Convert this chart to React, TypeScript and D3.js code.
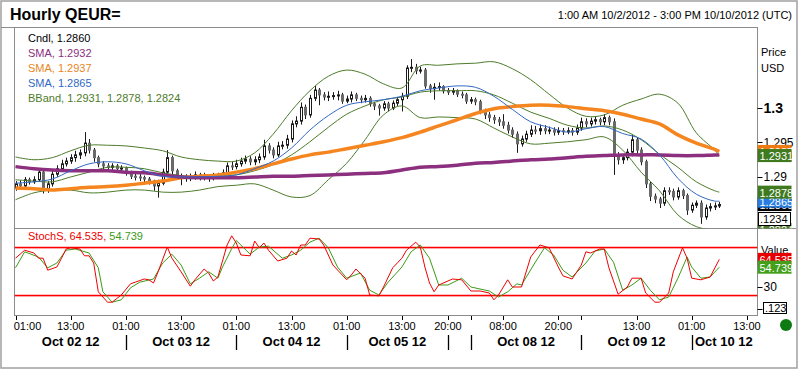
import React, { useEffect, useRef } from 'react';
import * as d3 from 'd3';

const W = 799;
const H = 370;
const FONT = 'Arial, "Liberation Sans", sans-serif';

// hourly candles from 01:00 Oct 02 2012 (UTC), weekend gap after index 93
const firstOpen = 1.2884;
const closes = [
  1.2890, 1.2887, 1.2896, 1.2893, 1.2896, 1.2907, 1.2883, 1.2890, 1.2904, 1.2912,
  1.2919, 1.2923, 1.2928, 1.2932, 1.2935, 1.2949, 1.2939, 1.2928, 1.2919, 1.2916,
  1.2914, 1.2916, 1.2912, 1.2913, 1.2906, 1.2901, 1.2900, 1.2899, 1.2897, 1.2894,
  1.2887, 1.2891, 1.2907, 1.2928, 1.2909, 1.2901, 1.2899, 1.2898, 1.2900, 1.2903,
  1.2900, 1.2901, 1.2899, 1.2901, 1.2902, 1.2906, 1.2916, 1.2915, 1.2919, 1.2923,
  1.2926, 1.2922, 1.2925, 1.2929, 1.2945, 1.2939, 1.2932, 1.2945, 1.2946, 1.2955,
  1.2977, 1.2981, 1.3001, 1.2990, 1.3014, 1.3026, 1.3019, 1.3016, 1.3017, 1.3018,
  1.3019, 1.3010, 1.3013, 1.3019, 1.3014, 1.3012, 1.3014, 1.3006, 1.3003, 1.3000,
  1.3006, 1.3000, 1.3007, 1.3012, 1.3017, 1.3058, 1.3059, 1.3054, 1.3055, 1.3032,
  1.3028, 1.3030, 1.3031, 1.3025, 1.3023, 1.3025, 1.3020, 1.3019, 1.3010, 1.3012,
  1.3009, 1.2996, 1.2990, 1.2986, 1.2983, 1.2980, 1.2975, 1.2968, 1.2962, 1.2948,
  1.2955, 1.2962, 1.2968, 1.2967, 1.2970, 1.2967, 1.2968, 1.2965, 1.2967, 1.2966,
  1.2967, 1.2965, 1.2971, 1.2980, 1.2977, 1.2981, 1.2983, 1.2980, 1.2986, 1.2980,
  1.2932, 1.2925, 1.2928, 1.2936, 1.2954, 1.2939, 1.2922, 1.2890, 1.2872, 1.2868,
  1.2862, 1.2880, 1.2879, 1.2871, 1.2880, 1.2873, 1.2852, 1.2859, 1.2862, 1.2842,
  1.2855, 1.2857, 1.2858, 1.2860,
];
const highs = [
  1.2894, 1.2895, 1.2900, 1.2899, 1.2901, 1.2913, 1.2910, 1.2894, 1.2909, 1.2917,
  1.2925, 1.2928, 1.2933, 1.2938, 1.2940, 1.2965, 1.2955, 1.2942, 1.2931, 1.2923,
  1.2920, 1.2920, 1.2919, 1.2917, 1.2915, 1.2909, 1.2905, 1.2904, 1.2902, 1.2900,
  1.2896, 1.2896, 1.2912, 1.2939, 1.2931, 1.2912, 1.2905, 1.2904, 1.2905, 1.2908,
  1.2906, 1.2906, 1.2904, 1.2906, 1.2906, 1.2911, 1.2921, 1.2922, 1.2925, 1.2928,
  1.2931, 1.2930, 1.2930, 1.2934, 1.2954, 1.2949, 1.2943, 1.2951, 1.2952, 1.2961,
  1.2982, 1.2988, 1.3008, 1.3005, 1.3019, 1.3032, 1.3029, 1.3023, 1.3024, 1.3023,
  1.3025, 1.3022, 1.3018, 1.3024, 1.3022, 1.3018, 1.3019, 1.3017, 1.3009, 1.3006,
  1.3010, 1.3009, 1.3011, 1.3016, 1.3022, 1.3062, 1.3071, 1.3064, 1.3060, 1.3058,
  1.3035, 1.3036, 1.3037, 1.3033, 1.3029, 1.3029, 1.3027, 1.3024, 1.3022, 1.3016,
  1.3015, 1.3012, 1.2999, 1.2994, 1.2990, 1.2987, 1.2991, 1.2980, 1.2972, 1.2966,
  1.2960, 1.2967, 1.2975, 1.2974, 1.2976, 1.2975, 1.2973, 1.2972, 1.2972, 1.2971,
  1.2972, 1.2971, 1.2976, 1.2986, 1.2985, 1.2986, 1.2988, 1.2986, 1.2991, 1.2989,
  1.2985, 1.2936, 1.2932, 1.2941, 1.2961, 1.2958, 1.2943, 1.2925, 1.2893, 1.2876,
  1.2871, 1.2885, 1.2885, 1.2883, 1.2885, 1.2883, 1.2876, 1.2863, 1.2866, 1.2866,
  1.2860, 1.2862, 1.2863, 1.2864,
];
const lows = [
  1.2880, 1.2882, 1.2884, 1.2889, 1.2890, 1.2893, 1.2876, 1.2877, 1.2886, 1.2900,
  1.2908, 1.2915, 1.2919, 1.2922, 1.2926, 1.2930, 1.2934, 1.2922, 1.2914, 1.2911,
  1.2909, 1.2910, 1.2907, 1.2908, 1.2902, 1.2897, 1.2895, 1.2894, 1.2892, 1.2889,
  1.2880, 1.2870, 1.2888, 1.2903, 1.2904, 1.2896, 1.2888, 1.2893, 1.2894, 1.2896,
  1.2895, 1.2895, 1.2893, 1.2895, 1.2897, 1.2899, 1.2903, 1.2910, 1.2911, 1.2915,
  1.2919, 1.2917, 1.2917, 1.2920, 1.2925, 1.2934, 1.2927, 1.2929, 1.2940, 1.2941,
  1.2950, 1.2972, 1.2976, 1.2984, 1.2986, 1.3010, 1.3004, 1.3011, 1.3010, 1.3012,
  1.3011, 1.3006, 1.3007, 1.3008, 1.3010, 1.3007, 1.3008, 1.3002, 1.2997, 1.2989,
  1.2996, 1.2995, 1.2997, 1.3003, 1.2995, 1.3013, 1.3052, 1.3049, 1.3050, 1.3028,
  1.3022, 1.3012, 1.3025, 1.3021, 1.3019, 1.3019, 1.3016, 1.3014, 1.3006, 1.3006,
  1.3004, 1.2991, 1.2984, 1.2980, 1.2977, 1.2974, 1.2970, 1.2963, 1.2957, 1.2935,
  1.2944, 1.2951, 1.2958, 1.2962, 1.2961, 1.2962, 1.2962, 1.2960, 1.2961, 1.2961,
  1.2962, 1.2960, 1.2961, 1.2967, 1.2972, 1.2973, 1.2976, 1.2975, 1.2975, 1.2975,
  1.2903, 1.2918, 1.2919, 1.2924, 1.2930, 1.2933, 1.2917, 1.2884, 1.2865, 1.2862,
  1.2855, 1.2858, 1.2874, 1.2866, 1.2867, 1.2868, 1.2845, 1.2848, 1.2855, 1.2832,
  1.2838, 1.2850, 1.2852, 1.2855,
];

// overlay lines, read every 4 hours (last point = last candle)
const lineIdx = [
  0, 4, 8, 12, 16, 20, 24, 28, 32, 36, 40, 44, 48, 52, 56, 60, 64, 68, 72, 76,
  80, 84, 88, 92, 96, 100, 104, 108, 112, 116, 120, 124, 128, 132, 136, 140, 144, 148, 152, 153,
];
const smaPurple = [
  1.2915, 1.2912, 1.2910, 1.2909, 1.2909, 1.2909, 1.2907, 1.2906, 1.2903, 1.2900,
  1.2899, 1.2899, 1.2899, 1.2900, 1.2901, 1.2901, 1.2902, 1.2903, 1.2904, 1.2905,
  1.2906, 1.2910, 1.2914, 1.2915, 1.2917, 1.2920, 1.2921, 1.2923, 1.2925, 1.2926,
  1.2928, 1.2930, 1.2931, 1.2932, 1.2932, 1.2932, 1.2931, 1.2931, 1.2932, 1.2932,
];
const smaOrange = [
  1.2884, 1.2883, 1.2881, 1.2883, 1.2885, 1.2886, 1.2888, 1.2891, 1.2894, 1.2899,
  1.2901, 1.2903, 1.2907, 1.2912, 1.2919, 1.2926, 1.2932, 1.2936, 1.2941, 1.2946,
  1.2951, 1.2957, 1.2965, 1.2974, 1.2983, 1.2992, 1.2999, 1.3002, 1.3004, 1.3004,
  1.3002, 1.2999, 1.2996, 1.2991, 1.2984, 1.2977, 1.2961, 1.2949, 1.2940, 1.2937,
];
const smaBlue = [
  1.2891, 1.2893, 1.2897, 1.2909, 1.2919, 1.2922, 1.2919, 1.2909, 1.2901, 1.2900,
  1.2900, 1.2901, 1.2903, 1.2912, 1.2923, 1.2942, 1.2968, 1.2989, 1.3004, 1.3009,
  1.3012, 1.3017, 1.3025, 1.3029, 1.3032, 1.3030, 1.3017, 1.2998, 1.2980, 1.2972,
  1.2965, 1.2970, 1.2973, 1.2963, 1.2955, 1.2932, 1.2898, 1.2875, 1.2865, 1.2865,
];
const bbUpper = [
  1.2929, 1.2925, 1.2928, 1.2938, 1.2946, 1.2946, 1.2945, 1.2942, 1.2938, 1.2929,
  1.2925, 1.2923, 1.2923, 1.2935, 1.2962, 1.2996, 1.3025, 1.3046, 1.3055, 1.3049,
  1.3035, 1.3029, 1.3061, 1.3062, 1.3064, 1.3065, 1.3067, 1.3057, 1.3041, 1.3020,
  1.3000, 1.2988, 1.2990, 1.3004, 1.3013, 1.3020, 1.3007, 1.2964, 1.2939, 1.2931,
];
const bbMid = [
  1.2896, 1.2894, 1.2893, 1.2900, 1.2907, 1.2914, 1.2914, 1.2912, 1.2906, 1.2902,
  1.2900, 1.2901, 1.2903, 1.2909, 1.2918, 1.2932, 1.2951, 1.2972, 1.2991, 1.3003,
  1.3012, 1.3016, 1.3023, 1.3025, 1.3025, 1.3025, 1.3019, 1.3007, 1.2994, 1.2985,
  1.2975, 1.2971, 1.2974, 1.2968, 1.2954, 1.2933, 1.2914, 1.2893, 1.2880, 1.2878,
];
const bbLower = [
  1.2867, 1.2877, 1.2881, 1.2881, 1.2877, 1.2878, 1.2881, 1.2881, 1.2878, 1.2878,
  1.2881, 1.2886, 1.2888, 1.2890, 1.2881, 1.2871, 1.2873, 1.2896, 1.2920, 1.2954,
  1.2990, 1.3003, 1.2986, 1.2987, 1.2986, 1.2984, 1.2971, 1.2958, 1.2948, 1.2949,
  1.2951, 1.2954, 1.2958, 1.2939, 1.2907, 1.2880, 1.2845, 1.2828, 1.2823, 1.2824,
];

// slow stochastic (%K red, %D green)
const kIdx = [
  0, 2, 4, 5, 6, 7, 9, 10, 11, 12, 14, 15, 16, 17, 18, 20, 21, 23, 25, 26,
  28, 29, 30, 31, 33, 34, 36, 38, 39, 41, 42, 43, 44, 46, 47, 48, 49, 51, 52, 53,
  54, 55, 57, 59, 60, 61, 62, 63, 64, 66, 67, 69, 72, 73, 74, 76, 77, 79, 80, 82,
  84, 85, 87, 88, 89, 90, 91, 92, 95, 97, 99, 101, 103, 104, 105, 107, 108, 110, 112, 114,
  116, 118, 119, 121, 123, 124, 125, 127, 128, 129, 131, 133, 134, 136, 137, 139, 140, 142, 143, 145,
  146, 147, 149, 151, 153,
];
const kVal = [
  66, 76, 72.5, 66, 66, 51, 55, 66, 77.5, 79, 77.5, 69, 69, 60, 24, 11, 11, 20, 34, 36,
  40, 39, 35, 49, 80, 66, 49, 31, 39, 52.5, 47.5, 37.5, 42.5, 82.5, 94, 85, 70, 69, 87.5, 79,
  85, 76, 62.5, 66, 75, 70, 82.5, 82.5, 91, 90, 82.5, 57.5, 39, 45, 52.5, 41, 20, 19, 30, 54,
  66, 76, 86, 80, 55, 35, 24, 32.5, 40, 39, 25, 25, 22.5, 14, 20, 39, 30, 30, 67.5, 82.5,
  79, 55, 44, 40, 57.5, 74, 72.5, 77.5, 77.5, 54, 21, 30, 41, 41, 22.5, 11, 11, 22.5, 49, 79,
  66, 41, 39, 42.5, 64.535,
];
const dIdx = [
  0, 2, 5, 7, 9, 11, 13, 16, 18, 19, 21, 23, 25, 27, 30, 32, 34, 36, 38, 40,
  42, 44, 45, 47, 48, 49, 51, 53, 55, 58, 60, 62, 64, 66, 68, 70, 72, 75, 77, 79,
  81, 84, 86, 88, 90, 92, 94, 97, 99, 103, 105, 107, 109, 110, 113, 115, 117, 119, 121, 124,
  126, 128, 130, 132, 134, 136, 138, 140, 142, 144, 146, 147, 149, 151, 153,
];
const dVal = [
  54, 74, 67.5, 54, 60, 76, 77.5, 72.5, 54, 24, 11, 14, 29, 36, 40, 60, 71, 57.5, 34, 41,
  49, 41, 55, 78, 88, 82.5, 71, 80, 81, 66, 70, 76, 86, 91, 79, 55, 41, 47.5, 26, 20,
  36, 55, 74, 82.5, 66, 32.5, 32.5, 41, 30, 25, 17.5, 24, 34, 32.5, 61, 79, 70, 51, 42.5, 60,
  75, 77.5, 61, 26, 32.5, 41, 26, 14, 17.5, 41, 67.5, 55, 41, 42.5, 54.739,
];
const stochBands = [80, 20];

// x axis
const timeTickIdx = [0, 12, 24, 36, 48, 60, 72, 84, 94, 106, 118, 135, 147, 159];
const timeTickLabels = ['01:00', '13:00', '01:00', '13:00', '01:00', '13:00', '01:00', '13:00', '20:00', '08:00', '20:00', '13:00', '01:00', '13:00'];
const dayStartIdx = [0, 24, 48, 72, 94, 99, 123, 147, 161];
const dayLabels = ['Oct 02 12', 'Oct 03 12', 'Oct 04 12', 'Oct 05 12', '', 'Oct 08 12', 'Oct 09 12', 'Oct 10 12'];
const priceTicks = [1.29, 1.295, 1.3];

const C = {
  purple: '#8c2f7e',
  orange: '#f5861f',
  blue: '#3268c4',
  band: '#4d7b2a',
  red: '#ee0000',
  green: '#3c9a18',
  frame: '#8c8c8c',
};

function draw(svg: any) {
  const pLeft = 14.5, pRight = 757.5, pTop = 27.5, pSplit = 228.5, pBottom = 315.5;

  const x: any = d3.scaleLinear().domain([0, 161]).range([15.5, 756.1]);
  const y: any = d3.scaleLinear().domain([1.2826, 1.3116]).range([228, 28]);
  const ys: any = d3.scaleLinear().domain([0, 100]).range([311, 231]);

  svg.append('rect').attr('width', W).attr('height', H).attr('fill', '#fff');

  const defs = svg.append('defs');
  defs.append('clipPath').attr('id', 'clipMain').append('rect')
    .attr('x', pLeft).attr('y', pTop).attr('width', pRight - pLeft).attr('height', pSplit - pTop);
  defs.append('clipPath').attr('id', 'clipStoch').append('rect')
    .attr('x', pLeft).attr('y', pSplit).attr('width', pRight - pLeft).attr('height', pBottom - pSplit);
  defs.append('clipPath').attr('id', 'clipMainLbl').append('rect')
    .attr('x', pRight).attr('y', pTop).attr('width', 45).attr('height', pSplit - pTop);
  defs.append('clipPath').attr('id', 'clipStochLbl').append('rect')
    .attr('x', pRight).attr('y', pSplit).attr('width', 45).attr('height', pBottom - pSplit);

  // frame
  svg.append('rect').attr('x', 1).attr('y', 1).attr('width', W - 3).attr('height', H - 3)
    .attr('fill', 'none').attr('stroke', '#a0a0a0').attr('stroke-width', 1.5);
  svg.append('line').attr('x1', 1).attr('x2', pRight).attr('y1', pTop).attr('y2', pTop).attr('stroke', C.frame);
  svg.append('rect').attr('x', pLeft).attr('y', pTop).attr('width', pRight - pLeft).attr('height', pBottom - pTop)
    .attr('fill', 'none').attr('stroke', C.frame);
  svg.append('line').attr('x1', pLeft).attr('x2', W - 3).attr('y1', pSplit).attr('y2', pSplit).attr('stroke', C.frame);

  // titles
  svg.append('text').attr('x', 10).attr('y', 20).attr('font-family', FONT).attr('font-size', 16)
    .attr('font-weight', 'bold').text('Hourly QEUR=');
  svg.append('text').attr('x', 792).attr('y', 19).attr('text-anchor', 'end').attr('font-family', FONT)
    .attr('font-size', 11).text('1:00 AM 10/2/2012 - 3:00 PM 10/10/2012 (UTC)');

  // ---- main panel
  const main = svg.append('g').attr('clip-path', 'url(#clipMain)');

  const candles = closes.map((c, i) => ({
    i, o: i === 0 ? firstOpen : closes[i - 1], c, h: highs[i], l: lows[i],
  }));

  const cg = main.selectAll('.candle').data(candles).enter().append('g').classed('candle', true);
  cg.append('line')
    .attr('x1', (d: any) => Math.round(x(d.i)) + 0.5)
    .attr('x2', (d: any) => Math.round(x(d.i)) + 0.5)
    .attr('y1', (d: any) => y(d.h))
    .attr('y2', (d: any) => y(d.l))
    .attr('stroke', '#1a1a1a');
  cg.append('rect')
    .attr('x', (d: any) => Math.round(x(d.i)) - 0.5)
    .attr('width', 2)
    .attr('y', (d: any) => y(Math.max(d.o, d.c)))
    .attr('height', (d: any) => Math.max(1, Math.abs(y(d.o) - y(d.c))))
    .attr('fill', (d: any) => (d.c >= d.o ? '#ffffff' : '#6a6a6a'))
    .attr('stroke', (d: any) => (d.c >= d.o ? '#1a1a1a' : '#6a6a6a'));

  const line = (vals: number[]) => d3.line<number>()
    .x((d, k) => x(lineIdx[k]))
    .y((d) => y(d))
    .curve(d3.curveCatmullRom.alpha(0.5))(vals);

  [bbUpper, bbMid, bbLower].forEach((s) => {
    main.append('path').attr('d', line(s)).attr('fill', 'none').attr('stroke', C.band).attr('stroke-width', 1);
  });
  main.append('path').attr('d', line(smaOrange)).attr('fill', 'none').attr('stroke', C.orange).attr('stroke-width', 3.5);
  main.append('path').attr('d', line(smaPurple)).attr('fill', 'none').attr('stroke', C.purple).attr('stroke-width', 3.5);
  main.append('path').attr('d', line(smaBlue)).attr('fill', 'none').attr('stroke', C.blue).attr('stroke-width', 1);

  // legend
  const last = (a: number[]) => a[a.length - 1];
  const legend = [
    { t: `Cndl, ${last(closes).toFixed(4)}`, c: '#000' },
    { t: `SMA, ${last(smaPurple).toFixed(4)}`, c: C.purple },
    { t: `SMA, ${last(smaOrange).toFixed(4)}`, c: '#e8861e' },
    { t: `SMA, ${last(smaBlue).toFixed(4)}`, c: C.blue },
    { t: `BBand, ${last(bbUpper).toFixed(4)}, ${last(bbMid).toFixed(4)}, ${last(bbLower).toFixed(4)}`, c: C.band },
  ];
  svg.selectAll('.legend').data(legend).enter().append('text').classed('legend', true)
    .attr('x', 28).attr('y', (d: any, i: number) => 42 + i * 15)
    .attr('font-family', FONT).attr('font-size', 11).attr('fill', (d: any) => d.c)
    .text((d: any) => d.t);

  // right price axis
  svg.append('text').attr('x', 761).attr('y', 56).attr('font-family', FONT).attr('font-size', 11).text('Price');
  svg.append('text').attr('x', 761).attr('y', 72).attr('font-family', FONT).attr('font-size', 11).text('USD');
  priceTicks.forEach((v) => {
    svg.append('line').attr('x1', pRight).attr('x2', pRight + 5).attr('y1', Math.round(y(v)) + 0.5)
      .attr('y2', Math.round(y(v)) + 0.5).attr('stroke', '#000');
    const bold = v === 1.3;
    svg.append('text').attr('x', pRight + 6).attr('y', y(v)).attr('dy', '0.36em')
      .attr('font-family', FONT).attr('font-size', bold ? 14 : 12).attr('font-weight', bold ? 'bold' : 'normal')
      .text(d3.format('')(v));
  });

  const lbl = svg.append('g').attr('clip-path', 'url(#clipMainLbl)');
  const boxes = [
    { v: last(bbLower), c: C.band },
    { v: last(closes), c: '#000' },
    { v: last(smaBlue), c: '#2a7de0' },
    { v: last(bbMid), c: '#3f7a1f' },
    { v: last(smaPurple), c: C.purple },
    { v: last(smaOrange), c: '#f07a12' },
    { v: last(bbUpper), c: '#3f7a1f' },
  ];
  boxes.forEach((b) => {
    lbl.append('rect').attr('x', pRight).attr('y', y(b.v) - 6.5).attr('width', 34).attr('height', 13).attr('fill', b.c);
    lbl.append('text').attr('x', pRight + 2).attr('y', y(b.v) + 4.5).attr('font-family', FONT).attr('font-size', 11)
      .attr('fill', '#fff').text(b.v.toFixed(4));
  });
  lbl.append('rect').attr('x', 758.5).attr('y', 212.5).attr('width', 32).attr('height', 13)
    .attr('fill', '#fff').attr('stroke', '#000');
  lbl.append('text').attr('x', 760).attr('y', 223).attr('font-family', FONT).attr('font-size', 11).text('.1234');

  // ---- stochastic panel
  const st = svg.append('g').attr('clip-path', 'url(#clipStoch)');
  st.selectAll('.sband').data(stochBands).enter().append('rect').classed('sband', true)
    .attr('x', pLeft).attr('width', pRight - pLeft)
    .attr('y', (d: number) => Math.round(ys(d)) - 0.25).attr('height', 1.6)
    .attr('fill', '#ff0000');
  const sLine = (idx: number[]) => d3.line<number>().x((d, k) => x(idx[k])).y((d) => ys(d));
  st.append('path').attr('d', sLine(dIdx)(dVal)).attr('fill', 'none').attr('stroke', C.green).attr('stroke-width', 1);
  st.append('path').attr('d', sLine(kIdx)(kVal)).attr('fill', 'none').attr('stroke', C.red).attr('stroke-width', 1);

  const sl = svg.append('text').attr('x', 28).attr('y', 240).attr('font-family', FONT).attr('font-size', 11);
  sl.append('tspan').attr('fill', C.red).text(`StochS, ${last(kVal).toFixed(3)}, `);
  sl.append('tspan').attr('fill', C.green).text(last(dVal).toFixed(3));

  const slbl = svg.append('g').attr('clip-path', 'url(#clipStochLbl)');
  slbl.append('text').attr('x', 761).attr('y', 254).attr('font-family', FONT).attr('font-size', 11).text('Value');
  [{ v: last(kVal), c: '#e80000' }, { v: last(dVal), c: '#44a01c' }].forEach((b) => {
    slbl.append('rect').attr('x', pRight).attr('y', ys(b.v) - 6.5).attr('width', 34).attr('height', 13).attr('fill', b.c);
    slbl.append('text').attr('x', pRight + 2).attr('y', ys(b.v) + 4.5).attr('font-family', FONT).attr('font-size', 11)
      .attr('fill', '#fff').text(b.v.toFixed(3));
  });
  svg.append('line').attr('x1', pRight).attr('x2', pRight + 5).attr('y1', Math.round(ys(30)) + 0.5)
    .attr('y2', Math.round(ys(30)) + 0.5).attr('stroke', '#000');
  svg.append('text').attr('x', pRight + 6).attr('y', ys(30)).attr('dy', '0.36em').attr('font-family', FONT)
    .attr('font-size', 12).text('30');
  svg.append('line').attr('x1', pRight).attr('x2', pRight + 5).attr('y1', 309.5).attr('y2', 309.5).attr('stroke', '#000');
  svg.append('rect').attr('x', 763.5).attr('y', 302.5).attr('width', 23).attr('height', 11)
    .attr('fill', '#fff').attr('stroke', '#000');
  svg.append('text').attr('x', 765).attr('y', 312).attr('font-family', FONT).attr('font-size', 11).text('.123');

  svg.append('circle').attr('cx', 786).attr('cy', 325).attr('r', 6).attr('fill', '#0d7a12');

  // ---- time axis
  const tickXs = [...timeTickIdx, ...dayStartIdx.slice(1, -1)];
  tickXs.forEach((i) => {
    svg.append('line').attr('x1', Math.round(x(i)) + 0.5).attr('x2', Math.round(x(i)) + 0.5)
      .attr('y1', 316).attr('y2', 320).attr('stroke', '#000');
  });
  timeTickIdx.forEach((i, k) => {
    const cx = Math.max(x(i), 14 + 13.5);
    svg.append('text').attr('x', cx).attr('y', 330).attr('text-anchor', 'middle')
      .attr('font-family', FONT).attr('font-size', 11).text(timeTickLabels[k]);
  });
  dayStartIdx.slice(1, -1).forEach((i) => {
    svg.append('line').attr('x1', Math.round(x(i)) + 0.5).attr('x2', Math.round(x(i)) + 0.5)
      .attr('y1', 335).attr('y2', 350).attr('stroke', '#000').attr('stroke-width', 1.3);
  });
  dayLabels.forEach((t, k) => {
    if (!t) return;
    const cx = (x(dayStartIdx[k]) + x(dayStartIdx[k + 1])) / 2;
    svg.append('text').attr('x', cx).attr('y', 346).attr('text-anchor', 'middle')
      .attr('font-family', FONT).attr('font-size', 13).attr('font-weight', 'bold').text(t);
  });
}

export default function App() {
  const ref = useRef<SVGSVGElement>(null);

  useEffect(() => {
    const svg = d3.select(ref.current);
    svg.selectAll('*').remove();
    draw(svg);
  }, []);

  return (
    <svg
      ref={ref}
      width={W}
      height={H}
      viewBox={`0 0 ${W} ${H}`}
      style={{ position: 'absolute', left: 0, top: 0, display: 'block' }}
    />
  );
}
